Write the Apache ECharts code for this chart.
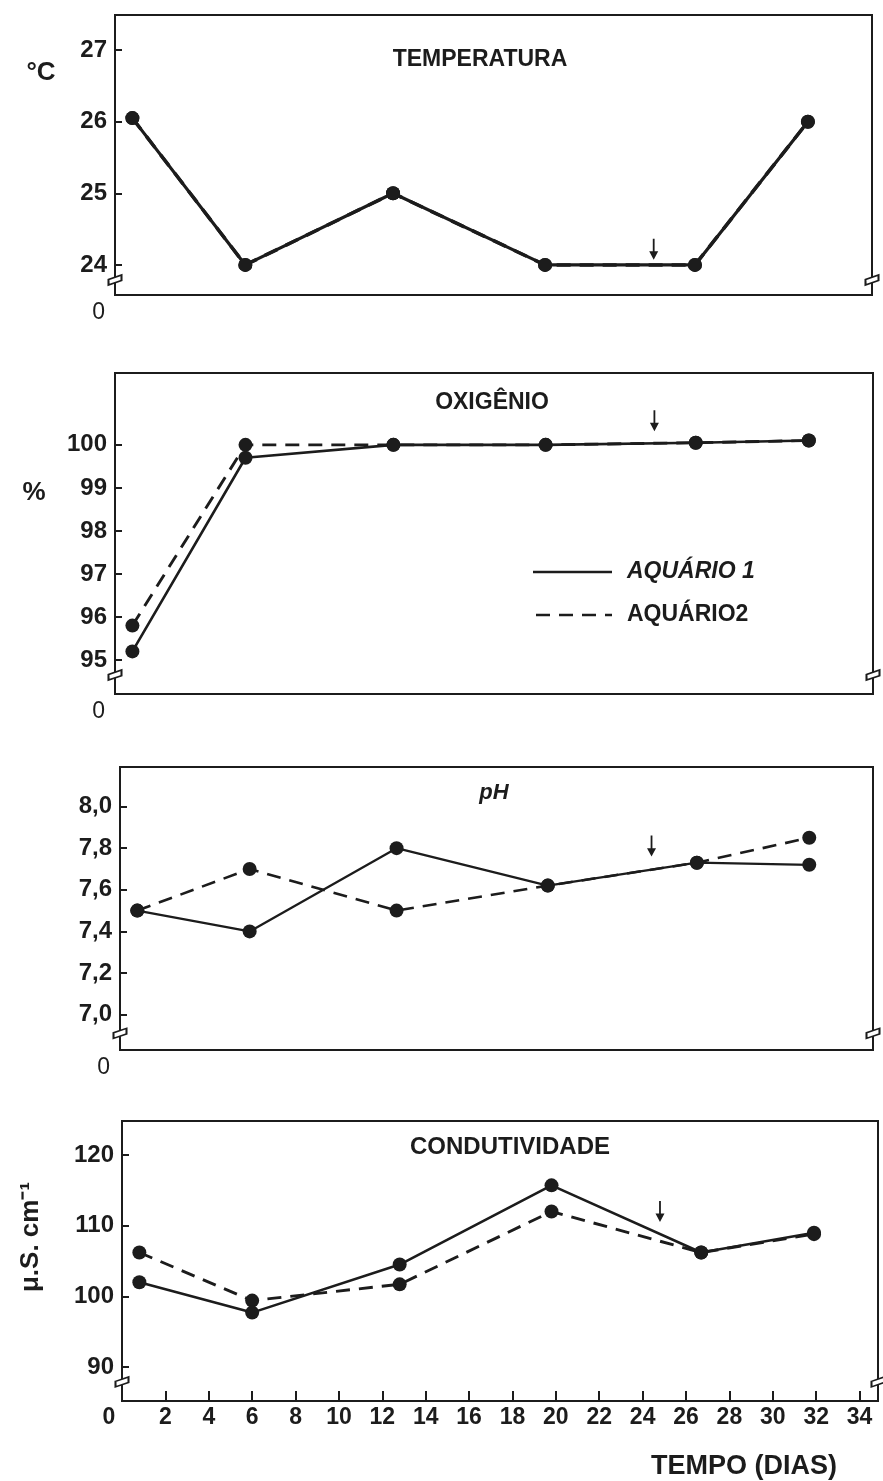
<!DOCTYPE html>
<html>
<head>
<meta charset="utf-8">
<script src="https://cdn.jsdelivr.net/npm/echarts@6/dist/echarts.min.js"></script>
<style>
html,body{margin:0;padding:0;background:#fff;}
#c{width:883px;height:1481px;}
</style>
</head>
<body>
<div id="c"></div>
<script>
// ---- data ----
const days = [0.8, 6, 12.8, 19.8, 26.7, 31.9];
const tempAq1 = [26.05, 24.0, 25.0, 24.0, 24.0, 26.0];
const tempAq2 = [26.05, 24.0, 25.0, 24.0, 24.0, 26.0];
const oxyAq1 = [95.2, 99.7, 100.0, 100.0, 100.05, 100.1];
const oxyAq2 = [95.8, 100.0, 100.0, 100.0, 100.05, 100.1];
const phAq1 = [7.5, 7.4, 7.8, 7.62, 7.73, 7.72];
const phAq2 = [7.5, 7.7, 7.5, 7.62, 7.73, 7.85];
const condAq1 = [102.0, 97.7, 104.5, 115.7, 106.2, 109.0];
const condAq2 = [106.2, 99.4, 101.7, 112.0, 106.2, 108.8];

const tempTicks = [24, 25, 26, 27];
const oxyTicks = [95, 96, 97, 98, 99, 100];
const phTicks = [7.0, 7.2, 7.4, 7.6, 7.8, 8.0];
const condTicks = [90, 100, 110, 120];
const dayTicks = [0, 2, 4, 6, 8, 10, 12, 14, 16, 18, 20, 22, 24, 26, 28, 30, 32, 34];

const panelTitles = ['TEMPERATURA', 'OXIGÊNIO', 'pH', 'CONDUTIVIDADE'];
const seriesNames = ['AQUÁRIO 1', 'AQUÁRIO2'];
const arrowDay = [24.8, 24.8, 24.6, 24.8];
const arrowY = [24.22, 100.56, 7.81, 112.0];
const breakY = [23.79, 94.65, 6.91, 87.9];

// ---- layout ----
const INK = '#1c1c1c';
const FONT = 'Liberation Sans, Arial, sans-serif';
const xMax = 34.85;
const grids = [
  {left: 115, top: 15, width: 757, height: 280},
  {left: 115, top: 373, width: 758, height: 321},
  {left: 120, top: 767, width: 753, height: 283},
  {left: 122, top: 1121, width: 756, height: 280}
];
const yRanges = [[23.58, 27.49], [94.21, 101.67], [6.83, 8.19], [85.2, 124.8]];
const yTicks = [tempTicks, oxyTicks, phTicks, condTicks];
const aq1 = [tempAq1, oxyAq1, phAq1, condAq1];
const aq2 = [tempAq2, oxyAq2, phAq2, condAq2];
const yFmt = [v => String(v), v => String(v), v => v.toFixed(1).replace('.', ','), v => String(v)];
const lineW = [3.2, 2.6, 2.3, 2.6];

const arrowPath = 'path://M3.2,0 L4.8,0 L4.8,12 L8,12 L4,20 L0,12 L3.2,12 Z';
const breakPath = 'path://M0,4 L12,0 L12,5 L0,9 Z';

const chart = echarts.init(document.getElementById('c'), null, {renderer: 'canvas'});

const xAxes = [], yAxes = [], series = [];
grids.forEach((g, i) => {
  const bottom = i === 3;
  xAxes.push({
    type: 'value', gridIndex: i, min: 0, max: xMax,
    axisLine: {show: false},
    splitLine: {show: false},
    axisTick: bottom ? {show: true, inside: true, length: 10, customValues: dayTicks,
      lineStyle: {color: INK, width: 2}} : {show: false},
    axisLabel: bottom ? {
      customValues: dayTicks, color: INK, fontFamily: FONT, fontSize: 23, fontWeight: 'bold', margin: 5,
      formatter: v => v === 0 ? '{z|0}' : String(v),
      rich: {z: {fontFamily: FONT, fontSize: 23, fontWeight: 'bold', color: INK, padding: [0, 26, 0, 0]}}
    } : {
      customValues: [0], color: INK, fontFamily: FONT, fontSize: 23, margin: 6,
      align: 'right', padding: [0, 10, 0, 0], formatter: v => String(v)
    }
  });
  yAxes.push({
    type: 'value', gridIndex: i, min: yRanges[i][0], max: yRanges[i][1],
    axisLine: {show: false},
    splitLine: {show: false},
    axisTick: {show: true, inside: true, length: 7, customValues: yTicks[i],
      lineStyle: {color: INK, width: 2}},
    axisLabel: {customValues: yTicks[i], color: INK, fontFamily: FONT, fontSize: 24, fontWeight: 'bold',
      margin: 8, formatter: yFmt[i]}
  });
  const mk = (vals) => vals.map((v, k) => [days[k], v]);
  series.push({
    name: seriesNames[0], type: 'line', xAxisIndex: i, yAxisIndex: i,
    data: mk(aq1[i]), symbol: 'circle', symbolSize: 14, z: 3,
    lineStyle: {color: INK, width: lineW[i], type: 'solid'},
    itemStyle: {color: INK},
    markPoint: {
      silent: true, symbol: arrowPath, symbolSize: [9, 21], symbolKeepAspect: false,
      label: {show: false}, itemStyle: {color: INK},
      data: [{coord: [arrowDay[i], arrowY[i]]}]
    }
  });
  series.push({
    name: seriesNames[1], type: 'line', xAxisIndex: i, yAxisIndex: i,
    data: mk(aq2[i]), symbol: 'circle', symbolSize: 14, z: 2,
    lineStyle: {color: INK, width: lineW[i] + 0.3, type: [14, 9]},
    itemStyle: {color: INK},
    markPoint: {
      silent: true, symbol: breakPath, symbolSize: [13, 10], symbolKeepAspect: false,
      label: {show: false}, itemStyle: {color: '#fff', borderColor: INK, borderWidth: 1.8},
      data: [{coord: [0, breakY[i]]}, {coord: [xMax, breakY[i]]}]
    }
  });
});

const txt = (x, y, s, size, extra, weight) => Object.assign({
  type: 'text', x: x, y: y, silent: true,
  style: Object.assign({text: s, fill: INK, font: (weight || 'bold') + ' ' + size + 'px ' + FONT, align: 'center', verticalAlign: 'middle'}, extra || {})
});

const graphics = [
  // panel titles
  txt(480, 60, panelTitles[0], 23),
  txt(492, 403, panelTitles[1], 23),
  txt(494, 793, panelTitles[2], 22, null, 'italic bold'),
  txt(510, 1147, panelTitles[3], 24),
  // unit names
  txt(41, 73, '°C', 26),
  txt(34, 493, '%', 26),
  {type: 'text', x: 31, y: 1237, rotation: Math.PI / 2, silent: true,
    style: {text: 'μ.S. cm⁻¹', fill: INK, font: 'bold 26px ' + FONT, align: 'center', verticalAlign: 'middle'}},
  txt(744, 1467, 'TEMPO (DIAS)', 27),
  // legend
  {type: 'line', silent: true, shape: {x1: 533, y1: 572, x2: 612, y2: 572}, style: {stroke: INK, lineWidth: 2.5}},
  {type: 'line', silent: true, shape: {x1: 536, y1: 615, x2: 612, y2: 615}, style: {stroke: INK, lineWidth: 2.5, lineDash: [14, 9]}},
  txt(627, 572, seriesNames[0], 23, {align: 'left'}, 'italic bold'),
  txt(627, 615, seriesNames[1], 23, {align: 'left'}, 'bold')
];

chart.setOption({
  animation: false,
  backgroundColor: '#ffffff',
  grid: grids.map(g => Object.assign({show: true, borderColor: INK, borderWidth: 2, backgroundColor: 'transparent', containLabel: false}, g)),
  xAxis: xAxes,
  yAxis: yAxes,
  series: series,
  graphic: graphics
});
</script>
</body>
</html>
